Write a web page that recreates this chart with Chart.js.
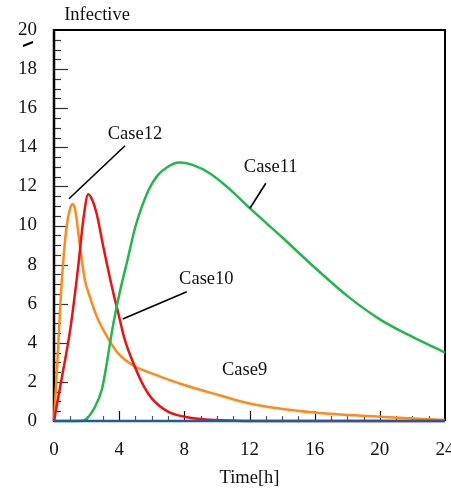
<!DOCTYPE html>
<html>
<head>
<meta charset="utf-8">
<script src="https://cdn.jsdelivr.net/npm/chart.js@4"></script>
<style>
  body { margin: 0; background: #fff; }
  canvas { display: block; }
</style>
</head>
<body>
<canvas id="chart" width="451" height="493"></canvas>
<script>
// values (time in hours, infective)
const case12Time = [0, 0.2, 0.4, 0.6, 0.8, 1.0, 1.15, 1.3, 1.6, 1.9, 2.2, 2.7, 3.45, 3.95, 4.95, 6.0, 8.0, 10.1, 12, 16, 20, 24];
const case12Vals = [0, 2.9, 6.1, 8.5, 10.1, 10.9, 11.1, 10.8, 8.9, 7.2, 6.35, 5.2, 4.05, 3.45, 2.8, 2.44, 1.84, 1.33, 0.9, 0.43, 0.22, 0.05];

const case10Time = [0, 0.5, 1.0, 1.5, 1.8, 2.1, 2.35, 2.62, 3.03, 3.6, 3.95, 4.35, 4.95, 5.5, 6.0, 7.0, 8.0, 9.0, 10, 11, 12, 16, 20, 24];
const case10Vals = [0, 2.3, 4.7, 8.0, 10.3, 11.6, 11.3, 10.6, 8.9, 6.7, 5.5, 4.15, 2.8, 1.8, 1.16, 0.48, 0.22, 0.1, 0.05, 0.02, 0, 0, 0, 0];

const case11Time = [0, 1.0, 1.8, 2.5, 2.95, 3.25, 3.5, 3.75, 4.0, 4.5, 5.0, 5.8, 6.3, 6.9, 7.7, 8.5, 9.6, 10.8, 12, 14, 16, 18, 20, 22, 24];
const case11Vals = [0, 0, 0.03, 0.7, 1.65, 3.0, 4.3, 5.45, 6.45, 8.2, 9.95, 11.8, 12.5, 12.95, 13.22, 13.1, 12.65, 11.85, 10.9, 9.4, 7.85, 6.4, 5.2, 4.3, 3.5];

const case9Time = [0, 24];
const case9Vals = [0, 0];

// case labels: name, text position, leader line start/end (data units)
const caseNames = ["Case12", "Case11", "Case10", "Case9"];
const labelPos = [[4.97, 14.68], [13.3, 12.99], [9.35, 7.28], [11.7, 2.6]];
const leaderLines = [
  [[4.36, 14.08], [0.92, 11.37]],
  [[13.0, 12.16], [12.03, 10.88]],
  [[8.15, 6.61], [4.22, 5.22]],
  null
];

const yTitle = "Infective";
const xTitle = "Time[h]";

const FONT = "'Liberation Serif', 'Times New Roman', serif";

const toPoints = (ts, vs) => ts.map((t, i) => ({ x: t, y: vs[i] }));

const series = (label, ts, vs, color) => ({
  label: label,
  data: toPoints(ts, vs),
  borderColor: color,
  borderWidth: 2.5,
  pointRadius: 0,
  cubicInterpolationMode: "monotone",
  clip: false,
});

const decorations = {
  id: "decorations",
  beforeDatasetsDraw(chart) {
    const { ctx, chartArea: a, scales: { x, y } } = chart;
    ctx.save();
    // inward ticks on the left axis
    ctx.strokeStyle = "#333";
    ctx.lineWidth = 1.2;
    for (let v = 0.5; v < 20; v += 0.5) {
      const py = Math.round(y.getPixelForValue(v)) + 0.5;
      const len = v % 2 === 0 ? 14 : 7;
      ctx.beginPath();
      ctx.moveTo(a.left, py);
      ctx.lineTo(a.left + len, py);
      ctx.stroke();
    }
    // inward ticks on the bottom axis
    for (let t = 1; t < 24; t++) {
      const px = Math.round(x.getPixelForValue(t)) + 0.5;
      const major = t % 4 === 0;
      ctx.strokeStyle = major ? "#111" : "#555";
      ctx.beginPath();
      ctx.moveTo(px, a.bottom);
      ctx.lineTo(px, a.bottom - (major ? 10 : 5));
      ctx.stroke();
    }
    // frame
    ctx.strokeStyle = "#000";
    ctx.lineWidth = 2;
    ctx.beginPath();
    ctx.moveTo(a.left, a.top);
    ctx.lineTo(a.right, a.top);
    ctx.lineTo(a.right, a.bottom);
    ctx.stroke();
    ctx.strokeStyle = "#444";
    ctx.beginPath();
    ctx.moveTo(a.left, a.bottom);
    ctx.lineTo(a.right, a.bottom);
    ctx.stroke();
    ctx.strokeStyle = "#000";
    ctx.lineWidth = 2.5;
    ctx.beginPath();
    ctx.moveTo(a.left, a.top - 1);
    ctx.lineTo(a.left, a.bottom + 1);
    ctx.stroke();
    ctx.restore();
  },
  afterDraw(chart) {
    const { ctx, scales: { x, y } } = chart;
    ctx.save();
    ctx.fillStyle = "#111";
    ctx.font = "18.5px " + FONT;
    ctx.textAlign = "center";
    ctx.textBaseline = "middle";
    ctx.fillText(yTitle, 97, 15);
    // little slash under the 20
    ctx.strokeStyle = "#000";
    ctx.lineWidth = 2;
    ctx.beginPath();
    ctx.moveTo(23, 46);
    ctx.lineTo(33, 42);
    ctx.stroke();
    // case labels and leader lines
    ctx.lineWidth = 1.6;
    caseNames.forEach((name, i) => {
      const [lt, lv] = labelPos[i];
      ctx.fillText(name, x.getPixelForValue(lt), y.getPixelForValue(lv));
      const ln = leaderLines[i];
      if (ln) {
        ctx.beginPath();
        ctx.moveTo(x.getPixelForValue(ln[0][0]), y.getPixelForValue(ln[0][1]));
        ctx.lineTo(x.getPixelForValue(ln[1][0]), y.getPixelForValue(ln[1][1]));
        ctx.stroke();
      }
    });
    ctx.restore();
  },
};

const noPad = (scale) => {
  scale.paddingLeft = 0;
  scale.paddingRight = 0;
  scale.paddingTop = 0;
  scale.paddingBottom = 0;
};

new Chart(document.getElementById("chart"), {
  type: "line",
  data: {
    datasets: [
      series("Case9", case9Time, case9Vals, "#1f5aa6"),
      series("Case11", case11Time, case11Vals, "#1fb84a"),
      series("Case10", case10Time, case10Vals, "#f01010"),
      series("Case12", case12Time, case12Vals, "#ff8a1a"),
    ],
  },
  options: {
    responsive: false,
    animation: false,
    layout: { padding: { top: 30, right: 6, bottom: 0, left: 0 } },
    plugins: { legend: { display: false }, tooltip: { enabled: false } },
    scales: {
      x: {
        type: "linear",
        min: 0,
        max: 24,
        grid: { display: false, drawTicks: false },
        border: { display: false },
        ticks: {
          stepSize: 4,
          padding: 18,
          color: "#111",
          maxRotation: 0,
          font: { family: FONT, size: 19 },
        },
        title: {
          display: true,
          text: xTitle,
          color: "#111",
          padding: { top: 0, bottom: 4 },
          font: { family: FONT, size: 18.5 },
        },
        afterFit(scale) {
          scale.height = 72;
          noPad(scale);
        },
      },
      y: {
        min: 0,
        max: 20,
        grid: { display: false, drawTicks: false },
        border: { display: false },
        ticks: {
          stepSize: 2,
          padding: 17,
          color: "#111",
          font: { family: FONT, size: 19 },
        },
        afterFit(scale) {
          scale.width = 54;
          noPad(scale);
        },
      },
    },
  },
  plugins: [decorations],
});
</script>
</body>
</html>
